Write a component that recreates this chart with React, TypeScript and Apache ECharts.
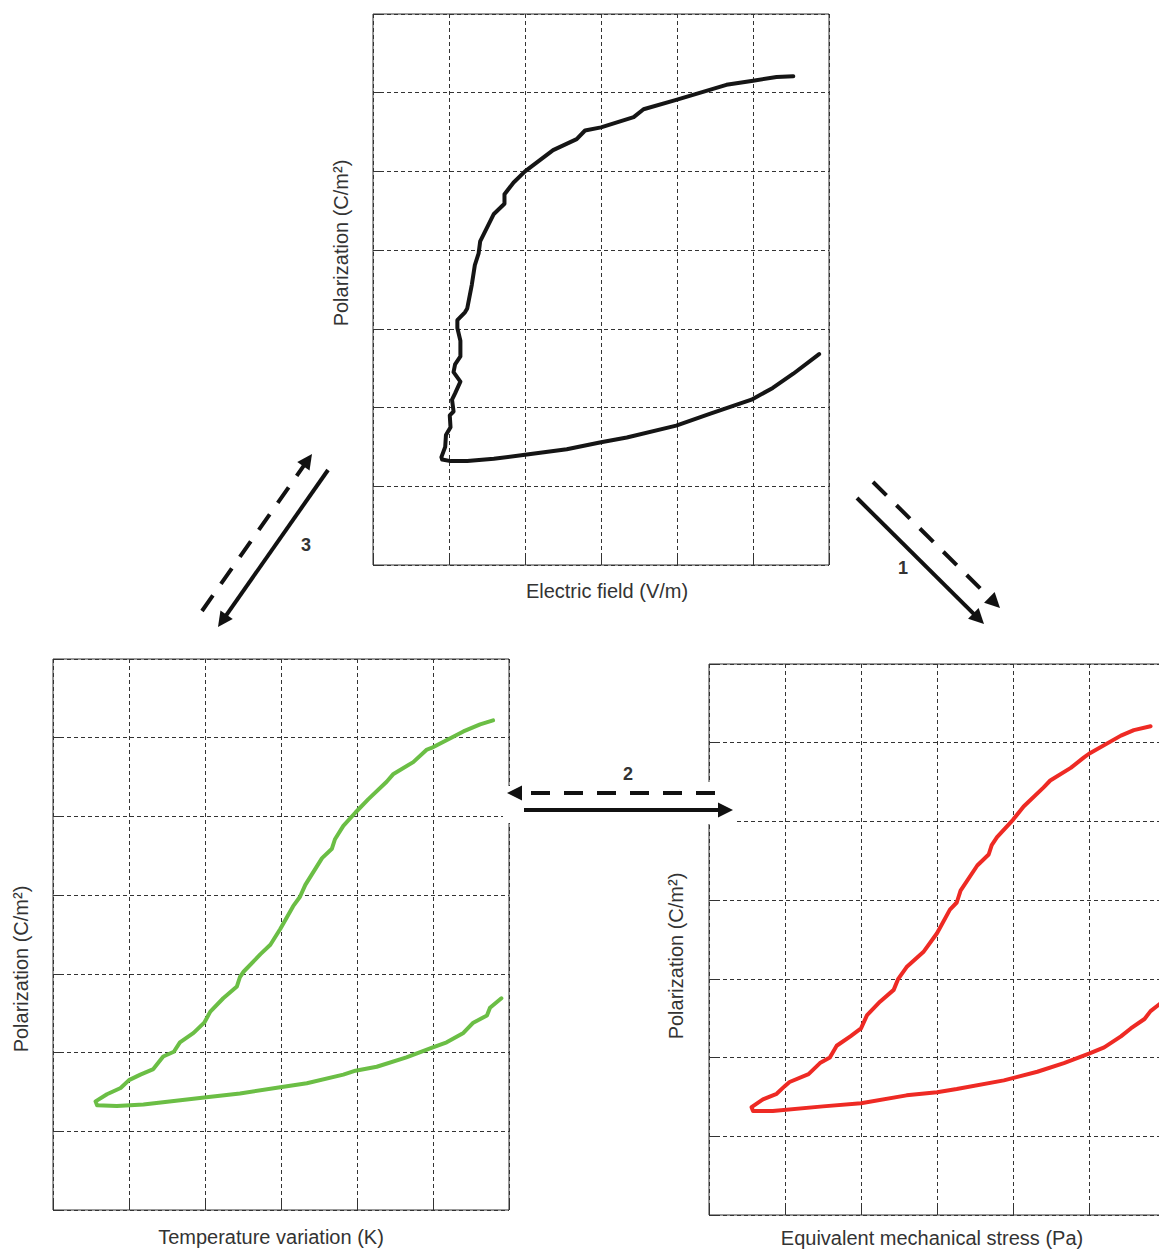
import React, { useEffect, useRef } from 'react';
import * as echarts from 'echarts';

// Grid units: x 0..6, y 0..7 (unlabelled axes)
const xRange = [0, 6];
const yRange = [0, 7];

const electricFieldCurve: number[][] = [
  [5.53, 6.21], [5.31, 6.2], [4.98, 6.15], [4.65, 6.1], [3.99, 5.91], [3.56, 5.79], [3.43, 5.69],
  [3.0, 5.56], [2.79, 5.52], [2.68, 5.41], [2.37, 5.27], [2.0, 5.0], [1.85, 4.86], [1.73, 4.71],
  [1.73, 4.59], [1.59, 4.46], [1.41, 4.11], [1.39, 3.96], [1.34, 3.81], [1.3, 3.56], [1.24, 3.26],
  [1.21, 3.21], [1.11, 3.11], [1.11, 3.01], [1.15, 2.85], [1.15, 2.65], [1.08, 2.55], [1.06, 2.45],
  [1.15, 2.33], [1.08, 2.18], [1.04, 2.1], [1.06, 1.95], [1.01, 1.9], [1.02, 1.75], [0.96, 1.65],
  [0.95, 1.5], [0.9, 1.37], [0.91, 1.34], [1.02, 1.32], [1.24, 1.32], [1.59, 1.35], [2.0, 1.4],
  [2.55, 1.47], [3.0, 1.56], [3.34, 1.62], [3.99, 1.77], [4.43, 1.92], [4.98, 2.1], [5.26, 2.25],
  [5.53, 2.43], [5.87, 2.68],
];

const temperatureCurve: number[][] = [
  [5.79, 6.22], [5.62, 6.17], [5.4, 6.08], [4.98, 5.87], [4.92, 5.85], [4.74, 5.69], [4.48, 5.54],
  [4.39, 5.44], [4.15, 5.22], [3.98, 5.05], [3.82, 4.88], [3.71, 4.71], [3.67, 4.59], [3.54, 4.47],
  [3.32, 4.13], [3.25, 3.98], [3.16, 3.86], [2.99, 3.57], [2.86, 3.37], [2.73, 3.25], [2.51, 3.03],
  [2.46, 2.96], [2.42, 2.84], [2.24, 2.69], [2.07, 2.52], [1.99, 2.38], [1.85, 2.25], [1.67, 2.13],
  [1.59, 2.01], [1.45, 1.95], [1.32, 1.79], [1.15, 1.72], [1.0, 1.65], [0.89, 1.55], [0.71, 1.47],
  [0.56, 1.38], [0.58, 1.33], [0.84, 1.32], [1.19, 1.34], [1.99, 1.43], [2.46, 1.48], [2.99, 1.56],
  [3.34, 1.61], [3.82, 1.72], [3.98, 1.77], [4.26, 1.82], [4.65, 1.94], [4.98, 2.06], [5.18, 2.13],
  [5.4, 2.25], [5.53, 2.38], [5.71, 2.47], [5.75, 2.57], [5.9, 2.69],
];

const stressCurve: number[][] = [
  [5.81, 6.21], [5.59, 6.16], [5.42, 6.09], [5.0, 5.86], [4.93, 5.81], [4.76, 5.68], [4.49, 5.52],
  [4.4, 5.43], [4.14, 5.19], [4.0, 5.02], [3.79, 4.8], [3.72, 4.7], [3.68, 4.58], [3.53, 4.44],
  [3.31, 4.12], [3.26, 3.97], [3.17, 3.88], [3.0, 3.58], [2.82, 3.34], [2.6, 3.15], [2.49, 3.0],
  [2.43, 2.86], [2.25, 2.71], [2.08, 2.54], [2.0, 2.37], [1.86, 2.27], [1.68, 2.15], [1.59, 2.0],
  [1.46, 1.93], [1.31, 1.79], [1.06, 1.69], [1.0, 1.64], [0.89, 1.54], [0.71, 1.47], [0.56, 1.37],
  [0.58, 1.32], [0.84, 1.32], [1.5, 1.38], [2.0, 1.42], [2.6, 1.52], [3.0, 1.56], [3.26, 1.6],
  [3.88, 1.71], [4.32, 1.82], [4.67, 1.93], [5.0, 2.05], [5.2, 2.13], [5.42, 2.27], [5.55, 2.37],
  [5.73, 2.49], [5.81, 2.59], [5.93, 2.68],
];

const curveColors = ['#151515', '#6bbe45', '#ee2a24'];
const xAxisTitles = ['Electric field (V/m)', 'Temperature variation (K)', 'Equivalent mechanical stress (Pa)'];
const yAxisTitle = 'Polarization (C/m²)';
const arrowLabels = ['1', '2', '3'];

const FONT = 'Liberation Sans, Arial, sans-serif';

function arrow(x1: number, y1: number, x2: number, y2: number, dashed: boolean) {
  const dx = x2 - x1;
  const dy = y2 - y1;
  const len = Math.hypot(dx, dy);
  const ux = dx / len;
  const uy = dy / len;
  const hl = 15;
  const hw = 7.5;
  const bx = x2 - ux * hl;
  const by = y2 - uy * hl;
  const px = -uy;
  const py = ux;
  return [
    {
      type: 'line',
      z: 100,
      shape: { x1, y1, x2: bx + ux * 2, y2: by + uy * 2 },
      style: { stroke: '#111', lineWidth: 4, lineDash: dashed ? [19, 14] : null },
    },
    {
      type: 'polygon',
      z: 100,
      shape: { points: [[x2, y2], [bx + px * hw, by + py * hw], [bx - px * hw, by - py * hw]] },
      style: { fill: '#111' },
    },
  ];
}

function textEl(text: string, x: number, y: number, rotate: boolean, size = 20, weight = 'normal') {
  return {
    type: 'text',
    z: 100,
    x,
    y,
    rotation: rotate ? Math.PI / 2 : 0,
    style: {
      text,
      x: 0,
      y: 0,
      fill: '#333',
      font: `${weight} ${size}px ${FONT}`,
      align: 'center',
      verticalAlign: 'middle',
    },
  };
}

export default function App() {
  const ref = useRef<HTMLDivElement>(null);

  useEffect(() => {
    if (!ref.current) return;
    const chart = echarts.init(ref.current, undefined, { renderer: 'svg' });

    const grids = [
      { left: 373, top: 14, width: 456, height: 551 },
      { left: 53, top: 659, width: 456, height: 551 },
      { left: 709, top: 664, width: 456, height: 551 },
    ];
    const splitLine = { show: true, lineStyle: { type: [4, 3], color: '#333', width: 1 } };
    const axisTick = { show: true, inside: true, length: 8, lineStyle: { color: '#333', width: 1 } };
    const curves = [electricFieldCurve, temperatureCurve, stressCurve];

    const option: any = {
      animation: false,
      backgroundColor: '#fff',
      grid: grids.map((g) => ({ ...g, show: true, borderColor: '#333', borderWidth: 1, containLabel: false })),
      xAxis: grids.map((_, i) => ({
        type: 'value',
        gridIndex: i,
        min: xRange[0],
        max: xRange[1],
        interval: 1,
        axisLabel: { show: false },
        axisTick,
        axisLine: { show: false },
        splitLine,
      })),
      yAxis: grids.map((_, i) => ({
        type: 'value',
        gridIndex: i,
        min: yRange[0],
        max: yRange[1],
        interval: 1,
        axisLabel: { show: false },
        axisTick,
        axisLine: { show: false },
        splitLine,
      })),
      series: curves.map((c, i) => ({
        type: 'line',
        xAxisIndex: i,
        yAxisIndex: i,
        data: c,
        showSymbol: false,
        smooth: false,
        lineStyle: { color: curveColors[i], width: 4, cap: 'round', join: 'round' },
      })),
      graphic: [
        // white gaps behind arrow 2
        { type: 'rect', z: 90, shape: { x: 503, y: 786, width: 12, height: 37 }, style: { fill: '#fff' } },
        { type: 'rect', z: 90, shape: { x: 700, y: 782, width: 36, height: 42 }, style: { fill: '#fff' } },
        ...arrow(857, 498, 984, 624, false),
        ...arrow(873, 482, 1000, 608, true),
        ...arrow(715, 793, 507, 793, true),
        ...arrow(524, 810, 733, 810, false),
        ...arrow(328, 470, 218, 627, false),
        ...arrow(202, 611, 312, 454, true),
        textEl(arrowLabels[0], 903, 568, false, 18, 'bold'),
        textEl(arrowLabels[1], 628, 774, false, 18, 'bold'),
        textEl(arrowLabels[2], 306, 545, false, 18, 'bold'),
        textEl(xAxisTitles[0], 607, 591, false),
        textEl(xAxisTitles[1], 271, 1237, false),
        textEl(xAxisTitles[2], 932, 1238, false),
        textEl(yAxisTitle, 341, 243, true),
        textEl(yAxisTitle, 21, 969, true),
        textEl(yAxisTitle, 676, 956, true),
      ],
    };
    chart.setOption(option);
    return () => chart.dispose();
  }, []);

  return (
    <div style={{ position: 'absolute', left: 0, top: 0, width: 1159, height: 1250, overflow: 'hidden', background: '#fff' }}>
      <div ref={ref} style={{ width: 1180, height: 1250 }} />
    </div>
  );
}
